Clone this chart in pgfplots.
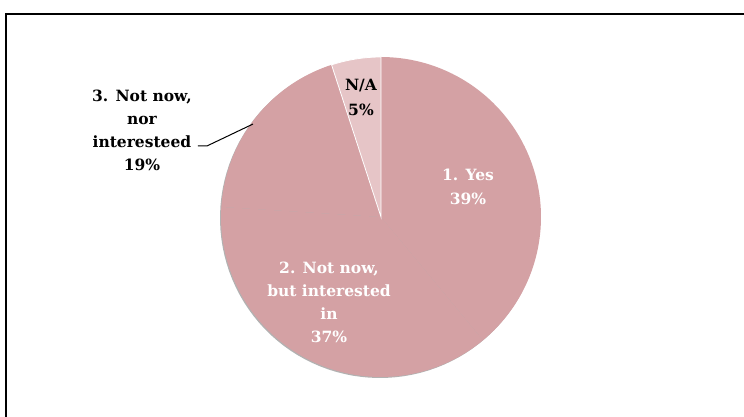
\documentclass[border=0pt]{standalone}
\usepackage{fontspec}
\setmainfont{DejaVu Serif}
\usepackage{pgfplots}
\pgfplotsset{compat=1.18}
\definecolor{pieMain}{RGB}{212,161,164}
\definecolor{pieNA}{RGB}{230,197,199}
\begin{document}
\begin{tikzpicture}
\useasboundingbox (0,0) rectangle (744pt,417pt);
\begin{axis}[
  scale only axis, width=744pt, height=417pt,
  xmin=-2.38125, xmax=2.26875, ymin=-1.25, ymax=1.35625,
  hide axis, clip=true,
]
% frame (partly outside the picture)
\draw[black, line width=2pt] (axis cs:-2.34375,-1.4) -- (axis cs:-2.34375,1.27) -- (axis cs:2.4,1.27);
% shadow
\addplot[fill=gray!60, draw=none, domain=0:360, samples=120, shift={(-1pt,-1pt)}] ({cos(x)},{sin(x)}) -- cycle;
% slices: 1. Yes 39, 2. Not now 37, 3. Not now nor interested 19, N/A 5 (clockwise from top)
\addplot[fill=pieMain, draw=none, domain=90-39*3.6:90, samples=80] ({cos(x)},{sin(x)}) -- (axis cs:0,0) -- cycle;
\addplot[fill=pieMain, draw=none, domain=90-76*3.6:90-39*3.6, samples=80] ({cos(x)},{sin(x)}) -- (axis cs:0,0) -- cycle;
\addplot[fill=pieMain, draw=none, domain=90-95*3.6:90-76*3.6, samples=40] ({cos(x)},{sin(x)}) -- (axis cs:0,0) -- cycle;
\addplot[fill=pieNA, draw=white, line width=0.8pt, domain=90-100*3.6:90-95*3.6, samples=20] ({cos(x)},{sin(x)}) -- (axis cs:0,0) -- cycle;
% leader line
\draw[black, line width=1pt] (axis cs:-1.144,0.444) -- (axis cs:-1.0875,0.444) -- (axis cs:-0.8,0.581);
% labels
\node[align=center, font=\fontsize{15.5}{23}\selectfont\bfseries, text=black] at (axis cs:-1.494,0.544) {3. Not now,\\nor\\interesteed\\19\%};
\node[align=center, font=\fontsize{15.5}{24.5}\selectfont\bfseries, text=black] at (axis cs:-0.125,0.747) {N/A\\5\%};
\node[align=center, font=\fontsize{15.5}{24}\selectfont\bfseries, text=white] at (axis cs:0.544,0.1875) {1. Yes\\39\%};
\node[align=center, font=\fontsize{15.5}{23}\selectfont\bfseries, text=white] at (axis cs:-0.325,-0.534) {2. Not now,\\but interested\\in\\37\%};
\end{axis}
\end{tikzpicture}
\end{document}
